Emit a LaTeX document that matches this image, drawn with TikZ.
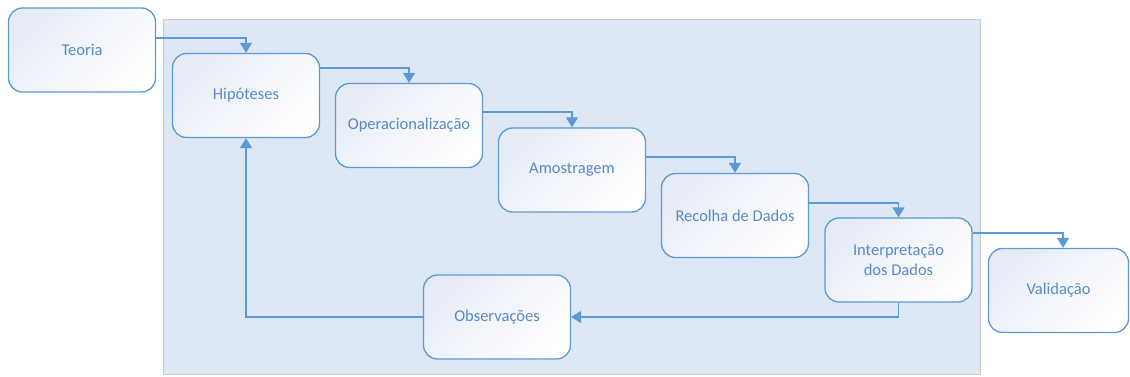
\documentclass[tikz,border=0pt]{standalone}
\usepackage{fontspec}
\setmainfont{Carlito}
\usetikzlibrary{arrows.meta,positioning}
\definecolor{lineblue}{HTML}{5B9BD5}
\definecolor{textblue}{HTML}{5A8AC6}
\definecolor{panelfill}{HTML}{DEE8F4}
\definecolor{panelrule}{HTML}{CACDD2}
\definecolor{boxtint}{HTML}{E6EBF6}
\begin{document}
\begin{tikzpicture}[x=1pt,y=-1pt,
  stepbox/.style={draw=lineblue, line width=1.3pt, rounded corners=14pt,
    minimum width=147pt, minimum height=84pt, inner sep=2pt,
    top color=boxtint, bottom color=white, shading angle=45,
    text=textblue, align=center, font=\fontsize{16.5}{20}\selectfont},
  conn/.style={draw=lineblue, line width=1.5pt,
    -{Triangle[width=12pt,length=10pt]}}]
\useasboundingbox (0,0) rectangle (1130,377);
% shaded panel behind the research cycle
\node[draw=panelrule, fill=panelfill, line width=1pt, inner sep=0pt,
  minimum width=817pt, minimum height=354pt] (panel) at (571.5,197) {};
% stages
\node[stepbox] (teo) at (82,50) {Teoria};
\node[stepbox] (hip) at (246,95.5) {Hipóteses};
\node[stepbox] (ope) at (409,125.5) {Operacionalização};
\node[stepbox] (amo) at (572,170) {Amostragem};
\node[stepbox] (rec) at (735,215.5) {Recolha de Dados};
\node[stepbox] (int) at (898.5,260) {Interpretação\\dos Dados};
\node[stepbox, minimum width=140pt] (val) at (1058.5,290.5) {Validação};
\node[stepbox] (obs) at (497,317) {Observações};
% forward flow
\draw[conn] ([yshift=12pt]teo.east) -| (hip.north);
\draw[conn] ([yshift=27.5pt]hip.east) -| (ope.north);
\draw[conn] ([yshift=13.5pt]ope.east) -| (amo.north);
\draw[conn] ([yshift=13pt]amo.east) -| (rec.north);
\draw[conn] ([yshift=12.5pt]rec.east) -| (int.north);
\draw[conn] ([yshift=27pt]int.east) -| ([xshift=4.5pt]val.north);
% feedback loop
\draw[conn] (int.south) |- (obs.east);
\draw[conn] (obs.west) -| (hip.south);
\end{tikzpicture}
\end{document}
